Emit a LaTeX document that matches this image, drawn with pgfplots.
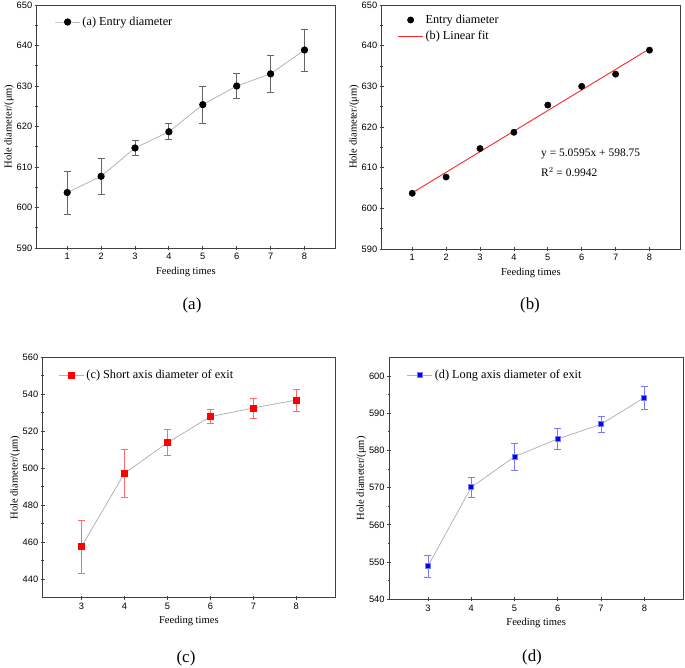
\documentclass[border=0pt]{standalone}
\usepackage{pgfplots}
\pgfplotsset{compat=1.18}
\usepackage{fontspec}
\setmainfont{Liberation Serif}
\newfontfamily\arialf{Liberation Sans}
\definecolor{axgray}{HTML}{404040}
\definecolor{lngray}{HTML}{B4B4B4}
\definecolor{errred}{HTML}{FF6A6A}
\definecolor{errblue}{HTML}{7A7AFF}
\pgfplotsset{
  common/.style={
    scale only axis,
    axis line style={axgray, line width=0.9bp},
    every tick/.style={axgray, line width=0.8bp},
    major tick length=4bp, minor tick length=2.5bp,
    tick align=center,
    tick pos=left,
    /pgf/number format/assume math mode=true,
    tick label style={font=\arialf\fontsize{9.3}{10}\selectfont},
    yticklabel style={xshift=1bp},
    label style={font=\fontsize{10.6}{12}\selectfont},
    ylabel={Hole diameter/(μm)},
    ylabel style={yshift=-4bp},
    xlabel={Feeding times},
    minor y tick num=1,
    xtick={1,...,8},
    legend cell align=left,
    legend style={draw=none, fill=none, font=\fontsize{12.3}{14}\selectfont,
      anchor=north west, at={(0,1)}, inner sep=0pt, outer sep=0pt},
    legend image code/.code={\draw[mark repeat=2,mark phase=2] plot coordinates {(0bp,0bp) (12.5bp,0bp) (25bp,0bp)};},
  },
}
\begin{document}
\begin{tikzpicture}
\useasboundingbox (0bp,0bp) rectangle (685bp,-668bp);

% (a)
\begin{axis}[common, at={(36.7bp,-248bp)}, anchor=south west, width=298.3bp, height=243bp,
  xmin=0.1, xmax=8.9, ymin=590, ymax=650, ytick={590,600,...,650},
  legend style={xshift=18bp, yshift=-10bp}]
\addplot[lngray, line width=0.8bp, mark=*, mark size=3.2bp, mark options={black, fill=black},
  error bars/.cd, y dir=both, y explicit, error bar style={axgray!80, line width=0.8bp},
  error mark options={rotate=90, mark size=3.5bp, axgray!80, line width=0.8bp}]
coordinates {(1,603.7) +- (0,5.3) (2,607.7) +- (0,4.4) (3,614.7) +- (0,1.75) (4,618.7) +- (0,2.0)
             (5,625.4) +- (0,4.6) (6,630.0) +- (0,3.1) (7,633.0) +- (0,4.5) (8,638.9) +- (0,5.2)};
\addlegendentry{(a) Entry diameter}
\end{axis}

% (b)
\begin{axis}[common, at={(381.7bp,-249bp)}, anchor=south west, width=298.3bp, height=244bp,
  xmin=0.1, xmax=8.9, ymin=590, ymax=650, ytick={590,600,...,650},
  legend style={xshift=16bp, yshift=-8bp, row sep=2bp}]
\addplot[only marks, mark=*, mark size=3.2bp, mark options={black, fill=black}]
coordinates {(1,603.7) (2,607.7) (3,614.7) (4,618.7) (5,625.4) (6,630.0) (7,633.0) (8,638.9)};
\addlegendentry{Entry diameter}
\addplot[red!85, line width=0.9bp] coordinates {(1,603.8095) (8,639.226)};
\addlegendentry{(b) Linear fit}
\node[anchor=west, font=\fontsize{11.5}{13}\selectfont, inner sep=0pt] at (axis cs:4.8,613.3) {y = 5.0595x + 598.75};
\node[anchor=west, font=\fontsize{11.5}{13}\selectfont, inner sep=0pt] at (axis cs:4.8,609.0) {R$^2$ = 0.9942};
\end{axis}

% (c)
\begin{axis}[common, at={(42.7bp,-597.7bp)}, anchor=south west, width=292.3bp, height=240.4bp,
  xmin=2.1, xmax=8.9, ymin=430, ymax=560, ytick={440,460,...,560}, xtick={3,...,8},
  legend style={xshift=16bp, yshift=-11bp}]
\addplot[lngray, line width=0.8bp, mark=square*, mark size=3bp, mark options={red, fill=red},
  error bars/.cd, y dir=both, y explicit, error bar style={errred, line width=0.8bp},
  error mark options={rotate=90, mark size=3.5bp, errred, line width=0.8bp}]
coordinates {(3,457.5) +- (0,14.2) (4,497.2) +- (0,13.0) (5,513.8) +- (0,7.1)
             (6,527.9) +- (0,3.7) (7,532.6) +- (0,5.4) (8,536.9) +- (0,6.0)};
\addlegendentry{(c) Short axis diameter of exit}
\end{axis}

% (d)
\begin{axis}[common, at={(389bp,-599.3bp)}, anchor=south west, width=294.3bp, height=242bp,
  xmin=2.1, xmax=8.9, ymin=540, ymax=605, ytick={540,550,...,600}, xtick={3,...,8},
  legend style={xshift=18bp, yshift=-11bp}]
\addplot[lngray, line width=0.8bp, mark=square*, mark size=2.5bp, mark options={draw=errblue, fill=blue},
  error bars/.cd, y dir=both, y explicit, error bar style={errblue, line width=0.8bp},
  error mark options={rotate=90, mark size=3.5bp, errblue, line width=0.8bp}]
coordinates {(3,548.9) +- (0,3.0) (4,570.1) +- (0,2.7) (5,578.3) +- (0,3.6)
             (6,583.1) +- (0,2.9) (7,587.0) +- (0,2.2) (8,594.2) +- (0,3.1)};
\addlegendentry{(d) Long axis diameter of exit}
\end{axis}

\node[font=\fontsize{17}{19}\selectfont] at (192bp,-305bp) {(a)};
\node[font=\fontsize{17}{19}\selectfont] at (530bp,-305bp) {(b)};
\node[font=\fontsize{17}{19}\selectfont] at (186bp,-658bp) {(c)};
\node[font=\fontsize{17}{19}\selectfont] at (532bp,-657bp) {(d)};
\end{tikzpicture}
\end{document}
